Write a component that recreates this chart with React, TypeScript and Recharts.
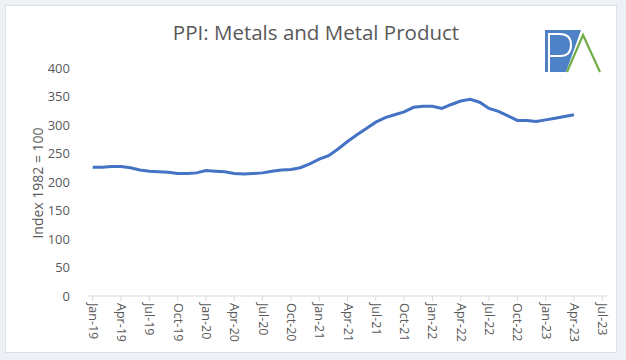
import { LineChart, Line, XAxis, YAxis } from "recharts";

// ── Data ───────────────────────────────────────────────────────────

// Monthly PPI, Jan-19 .. Apr-23 (index 1982 = 100)
const ppiValues = [
  226, 226, 227, 227, 225, 221, 219, 218, 217, 215, 215, 216, // 2019
  220, 219, 218, 215, 214, 215, 216, 219, 221, 222, 225, 232, // 2020
  240, 246, 258, 271, 283, 294, 305, 313, 318, 323, 331, 333, // 2021
  333, 329, 336, 342, 345, 340, 329, 324, 316, 308, 308, 306, // 2022
  309, 312, 315, 318, // 2023
];

const xTickLabels = [
  "Jan-19", "Apr-19", "Jul-19", "Oct-19",
  "Jan-20", "Apr-20", "Jul-20", "Oct-20",
  "Jan-21", "Apr-21", "Jul-21", "Oct-21",
  "Jan-22", "Apr-22", "Jul-22", "Oct-22",
  "Jan-23", "Apr-23", "Jul-23",
];

const yTicks = [0, 50, 100, 150, 200, 250, 300, 350, 400];

const data = ppiValues.map((v, i) => ({ m: i, ppi: v }));
const xTicks = xTickLabels.map((_, i) => i * 3);

const TEXT = "#595959";
const FONT = "'Open Sans', 'Noto Sans', sans-serif";

// ── Rotated month labels ───────────────────────────────────────────

function MonthTick({ x, y, payload }: any) {
  const label = xTickLabels[Math.round(payload.value / 3)] ?? "";
  return (
    <text
      x={x}
      y={y}
      transform={`rotate(90, ${x}, ${y})`}
      dy={4}
      textAnchor="start"
      fill={TEXT}
      fontSize={12.5}
      fontFamily={FONT}
    >
      {label}
    </text>
  );
}

// ── Logo ───────────────────────────────────────────────────────────

function Logo() {
  return (
    <svg width={70} height={50} style={{ position: "absolute", left: 540, top: 26 }}>
      <polygon points="5,4 41,4 26,46 5,46" fill="#4f81c7" />
      <path
        d="M9,46 L9,8 L20,8 Q31,8 31,19 Q31,30 20,30 L9,30"
        fill="none"
        stroke="#ffffff"
        strokeWidth={2}
      />
      <polyline
        points="27,46 43,9 60,46"
        fill="none"
        stroke="#70ad47"
        strokeWidth={2.2}
      />
    </svg>
  );
}

// ── Component ──────────────────────────────────────────────────────

export default function App() {
  return (
    <div
      style={{
        position: "absolute",
        left: 0,
        top: 0,
        width: 626,
        height: 360,
        background: "#edf0f5",
        fontFamily: FONT,
      }}
    >
      <div
        style={{
          position: "absolute",
          left: 5,
          top: 5,
          width: 612,
          height: 348,
          background: "#ffffff",
          border: "1px solid #dcdfe4",
          boxSizing: "border-box",
        }}
      />
      <div
        style={{
          position: "absolute",
          left: 0,
          top: 18,
          width: 632,
          textAlign: "center",
          fontSize: 20.5,
          color: TEXT,
          lineHeight: "28px",
        }}
      >
        PPI: Metals and Metal Product
      </div>
      <Logo />
      <div
        style={{
          position: "absolute",
          left: 37,
          top: 183,
          transform: "translate(-50%, -50%) rotate(-90deg)",
          whiteSpace: "nowrap",
          fontSize: 14,
          color: TEXT,
        }}
      >
        Index 1982 = 100
      </div>
      <div style={{ position: "absolute", left: 0, top: 0 }}>
        <LineChart
          width={626}
          height={360}
          data={data}
          margin={{ top: 68, right: 19, bottom: 0, left: 0 }}
        >
          <XAxis
            type="number"
            dataKey="m"
            domain={[-0.5, 54.5]}
            ticks={xTicks}
            interval={0}
            tick={<MonthTick />}
            axisLine={{ stroke: "#d9d9d9" }}
            tickLine={{ stroke: "#d9d9d9" }}
            tickSize={5}
            height={64}
          />
          <YAxis
            domain={[0, 400]}
            ticks={yTicks}
            interval={0}
            axisLine={false}
            tickLine={false}
            width={88}
            tickMargin={12}
            tick={{ fill: TEXT, fontSize: 13, fontFamily: FONT }}
          />
          <Line
            type="linear"
            dataKey="ppi"
            stroke="#4472c4"
            strokeWidth={3}
            dot={false}
            isAnimationActive={false}
          />
        </LineChart>
      </div>
    </div>
  );
}
